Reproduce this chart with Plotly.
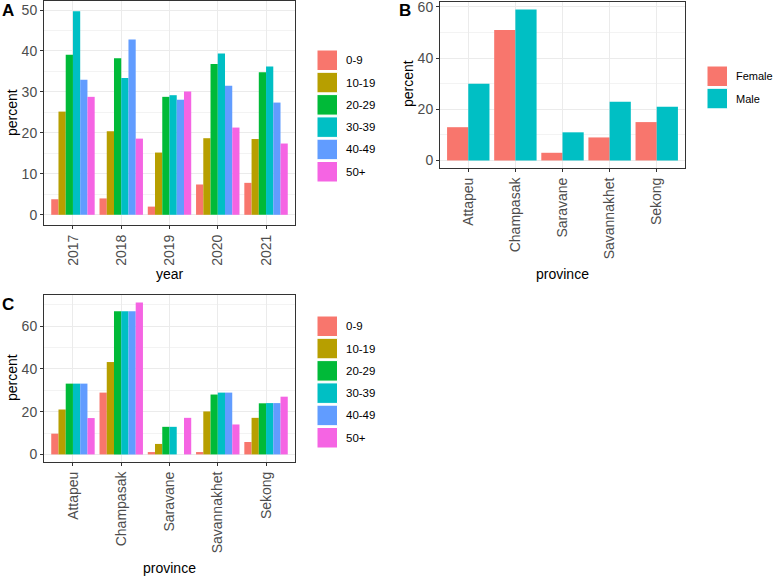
import plotly.graph_objects as go

# ---------------- data ----------------
years = ["2017", "2018", "2019", "2020", "2021"]
age_groups = ["0-9", "10-19", "20-29", "30-39", "40-49", "50+"]
age_by_year = {
    "0-9":   [3.8, 4.0, 2.0, 7.4, 7.8],
    "10-19": [25.2, 20.4, 15.2, 18.7, 18.5],
    "20-29": [39.1, 38.2, 28.8, 36.8, 34.8],
    "30-39": [49.7, 33.4, 29.2, 39.4, 36.2],
    "40-49": [33.0, 42.8, 28.1, 31.5, 27.4],
    "50+":   [28.8, 18.6, 30.1, 21.3, 17.4],
}
provinces = ["Attapeu", "Champasak", "Saravane", "Savannakhet", "Sekong"]
sexes = ["Female", "Male"]
sex_by_province = {
    "Female": [13, 51, 3, 9, 15],
    "Male":   [30, 59, 11, 23, 21],
}
age_by_province = {
    "0-9":   [9.7, 28.9, 1.1, 1.1, 5.8],
    "10-19": [21, 43.2, 4.9, 20.1, 17.1],
    "20-29": [33.1, 67, 12.9, 28, 23.9],
    "30-39": [33.1, 67, 12.9, 28.9, 24],
    "40-49": [33.1, 67, None, 28.9, 24],
    "50+":   [17, 71, 17.1, 14, 27],
}

age_colors = ["#F8766D", "#B79F00", "#00BA38", "#00BFC4", "#619CFF", "#F564E3"]
sex_colors = ["#F8766D", "#00BFC4"]

W, H = 774, 577
FONT = "Liberation Sans, Arial, sans-serif"


def px(x):
    return x / W


def py(y):
    return 1 - y / H


fig = go.Figure()

for i, g in enumerate(age_groups):
    fig.add_trace(go.Bar(x=years, y=age_by_year[g], name=g, marker_color=age_colors[i],
                         marker_line_width=0, xaxis="x", yaxis="y", offsetgroup=str(i),
                         showlegend=False))
for i, s in enumerate(sexes):
    fig.add_trace(go.Bar(x=provinces, y=sex_by_province[s], name=s, marker_color=sex_colors[i],
                         marker_line_width=0, xaxis="x2", yaxis="y2", offsetgroup="s" + str(i),
                         showlegend=False))
for i, g in enumerate(age_groups):
    fig.add_trace(go.Bar(x=provinces, y=age_by_province[g], name=g, marker_color=age_colors[i],
                         marker_line_width=0, xaxis="x3", yaxis="y3", offsetgroup="c" + str(i),
                         showlegend=False))


def xax(domain, anchor):
    return dict(domain=domain, anchor=anchor, type="category", range=[-0.6, 4.6],
                automargin=False,
                showline=True, mirror=True, linecolor="#333333", linewidth=1,
                ticks="outside", ticklen=3, tickcolor="#333333", tickangle=-90,
                tickfont=dict(size=14, color="#4D4D4D", family=FONT),
                ticklabeloverflow="allow",
                showgrid=True, gridcolor="#EBEBEB", gridwidth=1, zeroline=False)


def yax(domain, anchor, rng, dtick):
    return dict(domain=domain, anchor=anchor, range=rng, dtick=dtick, tick0=0,
                automargin=False,
                showline=True, mirror=True, linecolor="#333333", linewidth=1,
                ticks="outside", ticklen=3, tickcolor="#333333",
                tickfont=dict(size=14, color="#4D4D4D", family=FONT),
                ticklabeloverflow="allow",
                showgrid=True, gridcolor="#EBEBEB", gridwidth=1, zeroline=False,
                minor=dict(dtick=dtick / 2, tick0=0, showgrid=True, gridcolor="#F3F3F3",
                           gridwidth=1, ticks=""))


A_x = [px(44), px(295)]
A_y = [py(225), py(1)]
B_x = [px(440), px(685)]
B_y = [py(168), py(2)]
C_x = [px(44), px(295)]
C_y = [py(462), py(295)]

fig.update_layout(
    width=W, height=H,
    margin=dict(l=0, r=0, t=0, b=0, autoexpand=False),
    paper_bgcolor="white", plot_bgcolor="white",
    barmode="group", bargap=0.1, bargroupgap=0,
    font=dict(family=FONT, color="black"),
    xaxis=xax(A_x, "y"),
    yaxis=yax(A_y, "x", [-2.49, 52.2], 10),
    xaxis2=xax(B_x, "y2"),
    yaxis2=yax(B_y, "x2", [-2.95, 61.95], 20),
    xaxis3=xax(C_x, "y3"),
    yaxis3=yax(C_y, "x3", [-3.55, 74.55], 20),
)

ann = []
shapes = []


def text(x, y, s, size=14, angle=0, bold=False, xanchor="center"):
    ann.append(dict(x=px(x), y=py(y), xref="paper", yref="paper", text=("<b>%s</b>" % s) if bold else s,
                    showarrow=False, textangle=angle, xanchor=xanchor, yanchor="middle",
                    borderpad=0,
                    font=dict(size=size, color="black", family=FONT)))


# panel tags
text(8, 11, "A", 17, bold=True)
text(405, 11, "B", 17, bold=True)
text(8, 304, "C", 17, bold=True)
# axis titles
text(12, 113, "percent", 14, angle=-90)
text(169.5, 274, "year", 14)
text(408, 84, "percent", 14, angle=-90)
text(562.5, 274, "province", 14)
text(12, 378, "percent", 14, angle=-90)
text(169.5, 568, "province", 14)


def legend(x0, y0, labels, colors, pitch=22.3, key=20.5, fs=11.5):
    for i, (lab, col) in enumerate(zip(labels, colors)):
        top = y0 + i * pitch
        shapes.append(dict(type="rect", xref="paper", yref="paper",
                           x0=px(x0), x1=px(x0 + 20.5), y0=py(top + key), y1=py(top),
                           fillcolor=col, line=dict(color="white", width=1)))
        text(x0 + 28, top + key / 2, lab, fs, xanchor="left")


legend(317, 50, age_groups, age_colors)
legend(707, 66, sexes, sex_colors, fs=11)
legend(317, 316, age_groups, age_colors)

fig.update_layout(annotations=ann, shapes=shapes)
fig.write_html("out.html")
